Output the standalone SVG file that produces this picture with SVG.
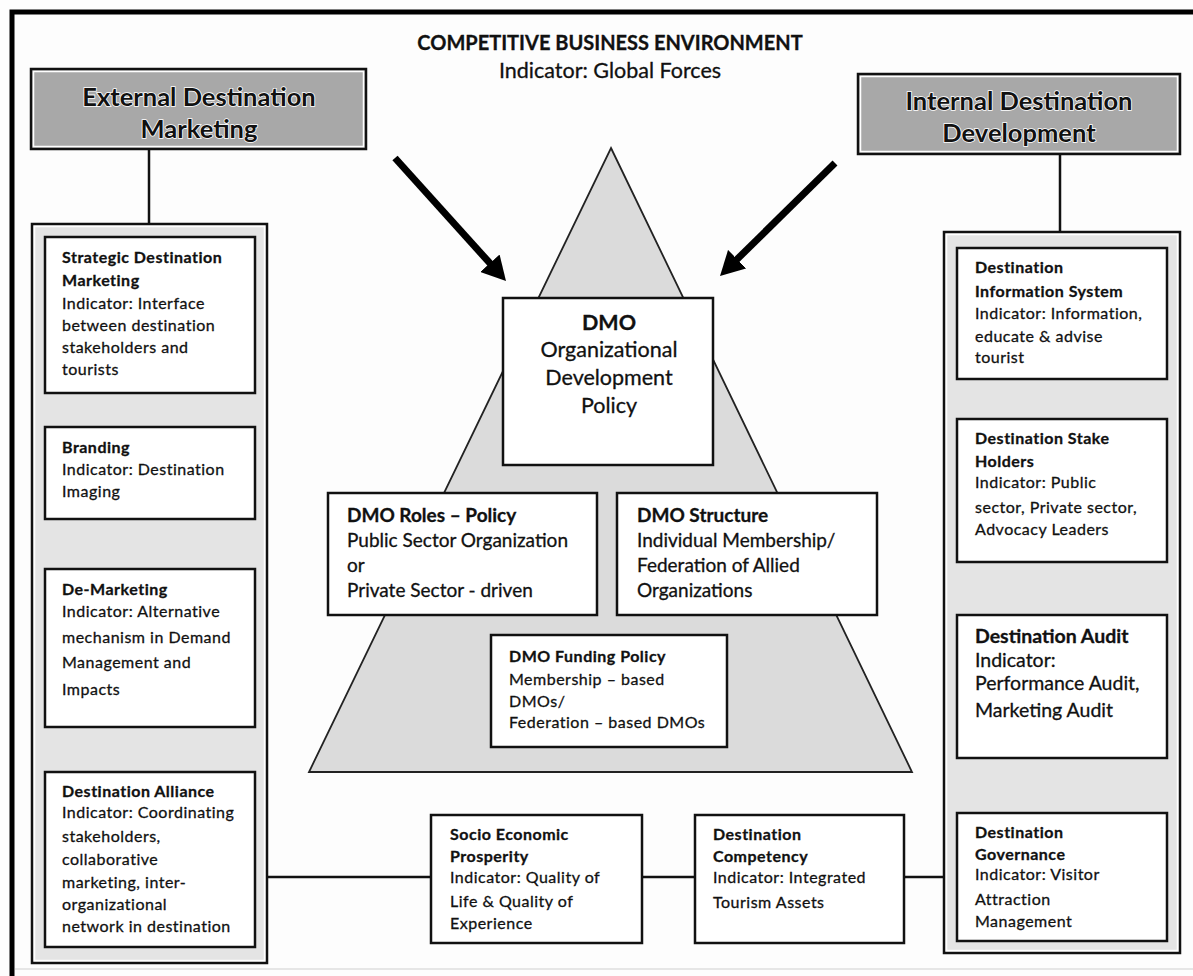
<svg xmlns="http://www.w3.org/2000/svg" width="1193" height="976" viewBox="0 0 1193 976">
  <defs>
    <marker id="head" markerUnits="userSpaceOnUse" markerWidth="26" markerHeight="26" refX="4" refY="13" orient="auto">
      <path d="M0,0 L24,13 L0,26 z" fill="#000"/>
    </marker>
    <style>
      .frame { stroke: #000; stroke-width: 5; fill: none; }
      .edge { stroke: #dedede; stroke-width: 1.5; fill: none; }
      .hdr { fill: #a8a8a8; stroke: #111; stroke-width: 2.5; }
      .panel { fill: #e4e4e4; stroke: #111; stroke-width: 2.5; }
      .inner { fill: none; stroke: #fff; stroke-width: 1.5; }
      .box { fill: #fff; stroke: #111; stroke-width: 2.5; }
      .tri { fill: #dbdbdb; stroke: #222; stroke-width: 1.8; }
      .link { stroke: #111; stroke-width: 2.5; fill: none; }
      .force { stroke: #000; stroke-width: 7; fill: none; }
      text { font-family: Lato, "Liberation Sans", sans-serif; fill: #111; stroke: #111; stroke-width: 0.3; }
      .b { font-weight: 700; }
      .s { font-size: 16px; letter-spacing: 0.5px; }
      .m { font-size: 19px; }
      .a { font-size: 19.5px; }
      .l { font-size: 21.5px; }
      .h { font-size: 25.5px; }
      .c { text-anchor: middle; }
      .halo { stroke: #fff; stroke-width: 1.6; paint-order: stroke; }
    </style>
  </defs>

  <rect width="1193" height="976" fill="#fdfdfd"/>

  <!-- outer frame -->
  <path class="frame" d="M12,976 V12 H1193"/>
  <path class="edge" d="M15,969 H1193"/>

  <!-- title -->
  <g id="title">
    <text class="b c" style="font-size:20px" x="610" y="50">COMPETITIVE BUSINESS ENVIRONMENT</text>
    <text class="l c" x="610" y="78">Indicator: Global Forces</text>
  </g>

  <!-- pyramid -->
  <g id="pyramid">
    <polygon class="tri" points="611,148 912,772 309,772"/>
  </g>

  <!-- connectors -->
  <g id="connectors">
    <path class="link" d="M149,149 V224"/>
    <path class="link" d="M149,393 V427 M149,519 V569 M149,727 V772"/>
    <path class="link" d="M1060,154 V232"/>
    <path class="link" d="M1060,379 V419 M1060,562 V615 M1060,758 V813"/>
    <path class="link" d="M267,877 H431 M642,877 H695 M904,877 H957"/>
    <path class="force" d="M395,158 L492.6,266.2" marker-end="url(#head)"/>
    <path class="force" d="M835,163 L734.3,262" marker-end="url(#head)"/>
  </g>

  <!-- left column -->
  <g id="external-header">
    <rect class="hdr" x="31" y="69" width="335" height="80"/>
    <rect class="inner" x="33.5" y="71.5" width="330" height="75"/>
    <text class="b h c halo" x="199" y="106">External Destination</text>
    <text class="b h c halo" x="199" y="138">Marketing</text>
  </g>
  <g id="external-panel">
    <rect class="panel" x="32" y="224" width="235" height="739"/>
    <rect class="inner" x="34.5" y="226.5" width="230" height="734"/>
  </g>
  <g id="strategic-marketing">
    <rect class="box" x="45" y="237" width="210" height="156"/>
    <text class="s" x="62" y="263"><tspan class="b">Strategic Destination</tspan><tspan class="b" x="62" y="286">Marketing</tspan><tspan x="62" y="309">Indicator: Interface</tspan><tspan x="62" y="331">between destination</tspan><tspan x="62" y="353">stakeholders and</tspan><tspan x="62" y="375">tourists</tspan></text>
  </g>
  <g id="branding">
    <rect class="box" x="45" y="427" width="210" height="92"/>
    <text class="s" x="62" y="453"><tspan class="b">Branding</tspan><tspan x="62" y="475">Indicator: Destination</tspan><tspan x="62" y="497">Imaging</tspan></text>
  </g>
  <g id="de-marketing">
    <rect class="box" x="45" y="569" width="210" height="158"/>
    <text class="s" x="62" y="595"><tspan class="b">De-Marketing</tspan><tspan x="62" y="617">Indicator: Alternative</tspan><tspan x="62" y="643">mechanism in Demand</tspan><tspan x="62" y="668">Management and</tspan><tspan x="62" y="695">Impacts</tspan></text>
  </g>
  <g id="destination-alliance">
    <rect class="box" x="45" y="772" width="210" height="175"/>
    <text class="s" x="62" y="797"><tspan class="b">Destination Alliance</tspan><tspan x="62" y="818">Indicator: Coordinating</tspan><tspan x="62" y="842">stakeholders,</tspan><tspan x="62" y="865">collaborative</tspan><tspan x="62" y="888">marketing, inter-</tspan><tspan x="62" y="910">organizational</tspan><tspan x="62" y="932">network in destination</tspan></text>
  </g>

  <!-- right column -->
  <g id="internal-header">
    <rect class="hdr" x="858" y="74" width="322" height="80"/>
    <rect class="inner" x="860.5" y="76.5" width="317" height="75"/>
    <text class="b h c halo" x="1019" y="110">Internal Destination</text>
    <text class="b h c halo" x="1019" y="142">Development</text>
  </g>
  <g id="internal-panel">
    <rect class="panel" x="944" y="232" width="236" height="721"/>
    <rect class="inner" x="946.5" y="234.5" width="231" height="716"/>
  </g>
  <g id="information-system">
    <rect class="box" x="957" y="248" width="210" height="131"/>
    <text class="s" x="975" y="273"><tspan class="b">Destination</tspan><tspan class="b" x="975" y="297">Information System</tspan><tspan x="975" y="319">Indicator: Information,</tspan><tspan x="975" y="342">educate &amp; advise</tspan><tspan x="975" y="363">tourist</tspan></text>
  </g>
  <g id="stake-holders">
    <rect class="box" x="957" y="419" width="210" height="143"/>
    <text class="s" x="975" y="444"><tspan class="b">Destination Stake</tspan><tspan class="b" x="975" y="467">Holders</tspan><tspan x="975" y="488">Indicator: Public</tspan><tspan x="975" y="513">sector, Private sector,</tspan><tspan x="975" y="535">Advocacy Leaders</tspan></text>
  </g>
  <g id="destination-audit">
    <rect class="box" x="957" y="615" width="210" height="143"/>
    <text class="a" x="975" y="643"><tspan class="b">Destination Audit</tspan><tspan x="975" y="667">Indicator:</tspan><tspan x="975" y="690">Performance Audit,</tspan><tspan x="975" y="717">Marketing Audit</tspan></text>
  </g>
  <g id="destination-governance">
    <rect class="box" x="957" y="813" width="210" height="128"/>
    <text class="s" x="975" y="838"><tspan class="b">Destination</tspan><tspan class="b" x="975" y="860">Governance</tspan><tspan x="975" y="880">Indicator: Visitor</tspan><tspan x="975" y="905">Attraction</tspan><tspan x="975" y="927">Management</tspan></text>
  </g>

  <!-- centre -->
  <g id="dmo-policy">
    <rect class="box" x="503" y="298" width="210" height="167"/>
    <text class="l c" x="609" y="330"><tspan class="b">DMO</tspan><tspan x="609" y="357">Organizational</tspan><tspan x="609" y="385">Development</tspan><tspan x="609" y="413">Policy</tspan></text>
  </g>
  <g id="dmo-roles">
    <rect class="box" x="328" y="493" width="269" height="122"/>
    <text class="m" x="347" y="522"><tspan class="b">DMO Roles – Policy</tspan><tspan x="347" y="547">Public Sector Organization</tspan><tspan x="347" y="572">or</tspan><tspan x="347" y="597">Private Sector - driven</tspan></text>
  </g>
  <g id="dmo-structure">
    <rect class="box" x="617" y="493" width="260" height="122"/>
    <text class="m" x="637" y="522"><tspan class="b">DMO Structure</tspan><tspan x="637" y="547">Individual Membership/</tspan><tspan x="637" y="572">Federation of Allied</tspan><tspan x="637" y="597">Organizations</tspan></text>
  </g>
  <g id="dmo-funding">
    <rect class="box" x="491" y="635" width="236" height="112"/>
    <text class="s" x="509" y="662"><tspan class="b">DMO Funding Policy</tspan><tspan x="509" y="685">Membership – based</tspan><tspan x="509" y="707">DMOs/</tspan><tspan x="509" y="728">Federation – based DMOs</tspan></text>
  </g>

  <!-- bottom row -->
  <g id="socio-economic">
    <rect class="box" x="431" y="815" width="211" height="128"/>
    <text class="s" x="450" y="840"><tspan class="b">Socio Economic</tspan><tspan class="b" x="450" y="862">Prosperity</tspan><tspan x="450" y="883">Indicator: Quality of</tspan><tspan x="450" y="907">Life &amp; Quality of</tspan><tspan x="450" y="929">Experience</tspan></text>
  </g>
  <g id="destination-competency">
    <rect class="box" x="695" y="815" width="209" height="128"/>
    <text class="s" x="713" y="840"><tspan class="b">Destination</tspan><tspan class="b" x="713" y="862">Competency</tspan><tspan x="713" y="883">Indicator: Integrated</tspan><tspan x="713" y="908">Tourism Assets</tspan></text>
  </g>
</svg>
